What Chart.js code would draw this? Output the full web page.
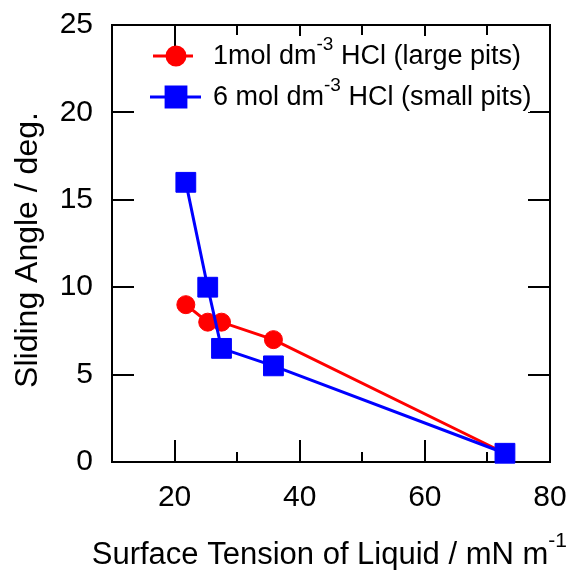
<!DOCTYPE html>
<html>
<head>
<meta charset="utf-8">
<script src="https://cdn.jsdelivr.net/npm/chart.js@4"></script>
<style>
html, body { margin: 0; padding: 0; background: #fff; }
</style>
</head>
<body>
<canvas id="myChart" width="569" height="570"></canvas>
<script>
// data
const surfaceTension = [21.8, 25.3, 27.5, 35.8, 72.8];
const angleLargePits = [9, 8, 8, 7, 0.5];    // 1 mol dm-3 HCl
const angleSmallPits = [16, 10, 6.5, 5.5, 0.5]; // 6 mol dm-3 HCl
const xMajorTicks = [20, 40, 60, 80];
const xMinorTicks = [30, 50, 70];
const yTickValues = [0, 5, 10, 15, 20, 25];

const FONT = '"Liberation Sans", Arial, sans-serif';

function toPoints(xs, ys) {
    return xs.map((x, i) => ({ x: x, y: ys[i] }));
}

// draws text with superscript pieces, left aligned on baseline
function drawRich(ctx, parts, x, y, size, supSize, raise) {
    ctx.textAlign = 'left';
    ctx.textBaseline = 'alphabetic';
    parts.forEach(p => {
        ctx.font = (p.sup ? supSize : size) + 'px ' + FONT;
        ctx.fillText(p.t, x, p.sup ? y - raise : y);
        x += ctx.measureText(p.t).width;
    });
    return x;
}
function richWidth(ctx, parts, size, supSize) {
    let w = 0;
    parts.forEach(p => {
        ctx.font = (p.sup ? supSize : size) + 'px ' + FONT;
        w += ctx.measureText(p.t).width;
    });
    return w;
}

const legendRows = [
    [{ t: '1mol dm' }, { t: '-3', sup: true }, { t: ' HCl (large pits)' }],
    [{ t: '6 mol dm' }, { t: '-3', sup: true }, { t: ' HCl (small pits)' }]
];
const xTitle = [{ t: 'Surface Tension of Liquid / mN m' }, { t: '-1', sup: true }];
const yTitle = 'Sliding Angle / deg.';

// frame with inward ticks on all four sides
const framePlugin = {
    id: 'framePlugin',
    beforeDatasetsDraw(chart) {
        const { ctx, chartArea: a, scales: { x, y } } = chart;
        ctx.save();
        ctx.strokeStyle = '#000';
        ctx.lineWidth = 2;
        ctx.beginPath();
        xMajorTicks.concat(xMinorTicks).forEach(v => {
            const len = xMajorTicks.includes(v) ? 22 : 10;
            const px = Math.round(x.getPixelForValue(v));
            ctx.moveTo(px, a.bottom); ctx.lineTo(px, a.bottom - len);
            ctx.moveTo(px, a.top); ctx.lineTo(px, a.top + len);
        });
        yTickValues.forEach(v => {
            const py = Math.round(y.getPixelForValue(v));
            ctx.moveTo(a.left, py); ctx.lineTo(a.left + 22, py);
            ctx.moveTo(a.right, py); ctx.lineTo(a.right - 22, py);
        });
        ctx.stroke();
        ctx.strokeRect(a.left, a.top, a.right - a.left, a.bottom - a.top);
        ctx.restore();
    },
    afterDraw(chart) {
        const { ctx, chartArea: a } = chart;
        ctx.save();

        // legend
        ctx.fillStyle = '#fff';
        ctx.fillRect(198, 36, 332, 76);
        const rowsY = [56, 97];
        const lineSpans = [[153, 193], [150, 201]];
        chart.data.datasets.forEach(ds => {
            const r = ds.legendRow;
            const cy = rowsY[r];
            ctx.strokeStyle = ds.borderColor;
            ctx.lineWidth = ds.borderWidth;
            ctx.beginPath();
            ctx.moveTo(lineSpans[r][0], cy);
            ctx.lineTo(lineSpans[r][1], cy);
            ctx.stroke();
            ctx.fillStyle = ds.pointBackgroundColor;
            ctx.strokeStyle = ds.pointBorderColor;
            Chart.helpers.drawPoint(ctx, {
                pointStyle: ds.pointStyle,
                radius: ds.pointRadius,
                borderWidth: ds.pointBorderWidth,
                rotation: 0
            }, 176, cy);
            ctx.fillStyle = '#000';
            drawRich(ctx, legendRows[r], 213, cy + 8, 27, 19, 14);
        });

        // axis titles
        ctx.fillStyle = '#000';
        const w = richWidth(ctx, xTitle, 31, 21);
        drawRich(ctx, xTitle, 567 - w, 564, 31, 21, 17);

        ctx.translate(37, 250);
        ctx.rotate(-Math.PI / 2);
        ctx.font = '32px ' + FONT;
        ctx.textAlign = 'center';
        ctx.textBaseline = 'alphabetic';
        ctx.fillText(yTitle, 0, 0);
        ctx.restore();
    }
};

const ctx = document.getElementById('myChart').getContext('2d');
const myChart = new Chart(ctx, {
    type: 'scatter',
    data: {
        datasets: [{
            label: '6 mol dm-3 HCl (small pits)',
            legendRow: 1,
            data: toPoints(surfaceTension, angleSmallPits),
            showLine: true,
            borderColor: '#0000ff',
            borderWidth: 3,
            pointStyle: 'rect',
            pointRadius: 14,
            pointHoverRadius: 14,
            pointBorderWidth: 1,
            pointBackgroundColor: '#0000ff',
            pointBorderColor: '#0000ff',
            clip: false,
            order: 0
        }, {
            label: '1mol dm-3 HCl (large pits)',
            legendRow: 0,
            data: toPoints(surfaceTension, angleLargePits),
            showLine: true,
            borderColor: '#ff0000',
            borderWidth: 3,
            pointStyle: 'circle',
            pointRadius: 9,
            pointHoverRadius: 9,
            pointBorderWidth: 1,
            pointBackgroundColor: '#ff0000',
            pointBorderColor: '#ff0000',
            clip: false,
            order: 1
        }]
    },
    options: {
        responsive: false,
        devicePixelRatio: 1,
        animation: false,
        layout: { padding: { top: 25, right: 19, left: 0, bottom: 0 } },
        plugins: {
            legend: { display: false },
            tooltip: { enabled: false }
        },
        scales: {
            x: {
                type: 'linear',
                min: 10,
                max: 80,
                grid: { display: false },
                border: { display: false },
                afterBuildTicks: s => { s.ticks = xMajorTicks.map(v => ({ value: v })); },
                afterFit: s => { s.height = 108; s.paddingLeft = 0; s.paddingRight = 0; },
                ticks: {
                    color: '#000',
                    padding: 10,
                    maxRotation: 0,
                    font: { family: FONT, size: 30 }
                }
            },
            y: {
                type: 'linear',
                min: 0,
                max: 25,
                grid: { display: false },
                border: { display: false },
                afterBuildTicks: s => { s.ticks = yTickValues.map(v => ({ value: v })); },
                afterFit: s => { s.width = 112; s.paddingTop = 0; s.paddingBottom = 0; },
                ticks: {
                    color: '#000',
                    padding: 11,
                    font: { family: FONT, size: 30 }
                }
            }
        }
    },
    plugins: [framePlugin]
});
</script>
</body>
</html>
